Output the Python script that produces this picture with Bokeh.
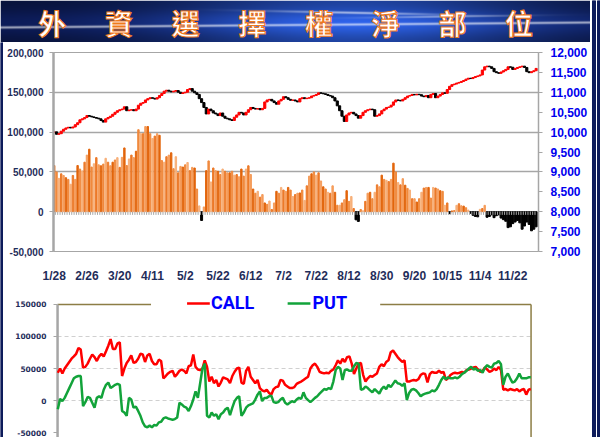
import numpy as np
from bokeh.plotting import figure
from bokeh.models import Range1d, LinearAxis, FixedTicker, NumeralTickFormatter
from bokeh.layouts import column, row
from bokeh.embed import file_html
from bokeh.resources import INLINE
from bokeh.core.properties import value

# ---------------- data ----------------
title_chars = list("外資選擇權淨部位")
tick_labels = ["1/28", "2/26", "3/20", "4/11", "5/2", "5/22", "6/12", "7/2",
               "7/22", "8/12", "8/30", "9/20", "10/15", "11/4", "11/22"]

# foreign net options position (bars)
net_position = [
    58000, 50000, 41900, 47600, 45500, 42700, 40600, 34500, 45500, 40600, 58000, 53600, 51200, 62200, 71100,
    78500, 56100, 60200, 67900, 58900, 57700, 59800, 67100, 62200, 57700, 62200, 65000, 67900, 55700, 68300,
    80100, 58000, 66300, 71100, 67900, 76000, 103000, 98000, 98000, 107000, 107000, 98000, 92000, 95000, 98000,
    96000, 64200, 62200, 69100, 71100, 74000, 54000, 69100, 48800, 56900, 56100, 58900, 61800, 51600, 55700,
    54900, 28500, 7300, -11000, 6000, 51600, 63800, 37400, 54900, 51600, 50800, 46700, 53600, 50800, 48800,
    48800, 50800, 45900, 46700, 43900, 53600, 44700, 53600, 57700, 46700, 28500, 23200, 25600, 18300, 21500,
    11000, 9300, 13400, 2800, 11000, 25600, 23200, 30500, 27200, 25600, 30500, 27200, 19100, 21500, 23200,
    23600, 27200, 14200, 32500, 44700, 47600, 50000, 45900, 48800, 38600, 31300, 28500, 24400, 23200, 32500,
    24400, 8100, 8100, 11000, 15000, 26400, 13000, 19100, 4000, -10200, -12200, 2800, 1200, 13000, 23200,
    24400, 16300, 24400, 33700, 31300, 45900, 40600, 39400, 37800, 40600, 61000, 50000, 36600, 33700, 41500,
    33300, 29300, 27200, 16300, 16300, 12200, 16300, 24400, 29700, 30500, 30500, 17100, 30500, 29700, 28500,
    26400, 25600, 8100, 11000, -2500, 1000, 1500, 8000, 10000, 7500, 7000, 5000, 2000, -2000, -4500,
    -6000, -6500, 3000, 4000, 8000, -7000, -6000, -4000, -7500, -5000, -4000, -8000, -10000, -12000, -20000,
    -19000, -15000, -13000, -11000, -14000, -22000, -18000, -13000, -16000, -24000, -22000, -19000,
]

# TAIEX candles
taiex_open = [
    9990, 10006, 9945, 9960, 10023, 10072, 10104, 10121, 10104, 10129, 10186, 10235, 10309, 10333, 10366,
    10415, 10399, 10382, 10366, 10350, 10333, 10292, 10251, 10333, 10366, 10399, 10448, 10497, 10537, 10562,
    10578, 10636, 10537, 10554, 10562, 10537, 10578, 10676, 10725, 10742, 10807, 10840, 10864, 10850, 10830,
    10864, 10921, 10970, 11028, 11052, 11028, 11011, 11028, 11044, 11003, 10970, 10987, 11003, 11069, 11093,
    11028, 10987, 10946, 10840, 10742, 10619, 10456, 10578, 10537, 10480, 10456, 10415, 10480, 10399, 10350,
    10333, 10309, 10292, 10374, 10431, 10497, 10480, 10431, 10497, 10562, 10619, 10595, 10578, 10590, 10562,
    10595, 10758, 10807, 10823, 10783, 10742, 10701, 10783, 10823, 10889, 10864, 10823, 10799, 10807, 10783,
    10758, 10840, 10864, 10840, 10852, 10864, 10905, 10921, 10946, 10987, 10975, 10962, 10946, 10921, 10905,
    10864, 10783, 10660, 10537, 10399, 10268, 10431, 10480, 10497, 10456, 10415, 10350, 10415, 10497, 10537,
    10562, 10578, 10562, 10399, 10415, 10456, 10537, 10578, 10619, 10630, 10676, 10758, 10807, 10799, 10783,
    10823, 10864, 10905, 10921, 10946, 10935, 10950, 10940, 10905, 10889, 10921, 10864, 10946, 10970, 10864,
    10905, 10946, 10987, 10975, 11069, 11150, 11191, 11207, 11232, 11248, 11273, 11297, 11330, 11354, 11345,
    11371, 11395, 11412, 11436, 11559, 11640, 11657, 11640, 11600, 11518, 11493, 11477, 11510, 11542, 11575,
    11640, 11630, 11575, 11600, 11624, 11640, 11657, 11624, 11518, 11493, 11518, 11542,
]
taiex_close = [
    10006, 9945, 9960, 10023, 10072, 10104, 10121, 10104, 10129, 10186, 10235, 10309, 10333, 10366, 10415,
    10399, 10382, 10366, 10350, 10333, 10292, 10251, 10333, 10366, 10399, 10448, 10497, 10537, 10562, 10578,
    10636, 10537, 10554, 10562, 10537, 10578, 10676, 10725, 10742, 10807, 10840, 10864, 10850, 10830, 10864,
    10921, 10970, 11028, 11052, 11028, 11011, 11028, 11044, 11003, 10970, 10987, 11003, 11069, 11093, 11028,
    10987, 10946, 10840, 10742, 10619, 10456, 10578, 10537, 10480, 10456, 10415, 10480, 10399, 10350, 10333,
    10309, 10292, 10374, 10431, 10497, 10480, 10431, 10497, 10562, 10619, 10595, 10578, 10590, 10562, 10595,
    10758, 10807, 10823, 10783, 10742, 10701, 10783, 10823, 10889, 10864, 10823, 10799, 10807, 10783, 10758,
    10840, 10864, 10840, 10852, 10864, 10905, 10921, 10946, 10987, 10975, 10962, 10946, 10921, 10905, 10864,
    10783, 10660, 10537, 10399, 10268, 10431, 10480, 10497, 10456, 10415, 10350, 10415, 10497, 10537, 10562,
    10578, 10562, 10399, 10415, 10456, 10537, 10578, 10619, 10630, 10676, 10758, 10807, 10799, 10783, 10823,
    10864, 10905, 10921, 10946, 10935, 10950, 10940, 10905, 10889, 10921, 10864, 10946, 10970, 10864, 10905,
    10946, 10987, 10975, 11069, 11150, 11191, 11207, 11232, 11248, 11273, 11297, 11330, 11354, 11345, 11371,
    11395, 11412, 11436, 11559, 11640, 11657, 11640, 11600, 11518, 11493, 11477, 11510, 11542, 11575, 11640,
    11630, 11575, 11600, 11624, 11640, 11657, 11624, 11518, 11493, 11518, 11542, 11600,
]

# CALL / PUT net positions
call_pos = [
    43350, 49980, 42330, 49980, 55080, 60180, 65280, 68850, 72930, 82110, 79560, 51510, 52530, 57630, 65280,
    71910, 67830, 61710, 68850, 72930, 68850, 77010, 85680, 95880, 80580, 80580, 89250, 90780, 38250, 49980,
    58650, 63750, 70380, 58650, 60180, 65280, 72930, 71910, 60180, 70380, 72930, 61710, 56610, 56610, 63750,
    61710, 34680, 38250, 42330, 44880, 46410, 37230, 41310, 46410, 48450, 46410, 42330, 53550, 55080, 71910,
    52530, 48450, 47430, 49980, 62730, 52530, 29580, 37230, 27030, 32130, 21930, 28050, 36210, 34680, 33150,
    27030, 38250, 44880, 49980, 51510, 28050, 26010, 46410, 52530, 37230, 32130, 27030, 32130, 19380, 15810,
    14280, 16830, 11730, 9180, 17850, 20910, 21930, 32130, 31110, 24480, 21930, 19380, 19380, 20910, 26010,
    28050, 29580, 32130, 34680, 37230, 49980, 55080, 57630, 52530, 44880, 43350, 42330, 43350, 42330, 46410,
    48450, 55080, 62730, 57630, 65280, 60180, 67830, 68850, 57630, 41310, 49980, 57630, 58650, 39780, 29580,
    34680, 38250, 37230, 39780, 42330, 52530, 56610, 53550, 60180, 62730, 75480, 78030, 72930, 67830, 63750,
    60180, 62730, 29580, 29580, 31110, 32130, 31110, 33150, 39780, 42330, 41310, 28050, 41310, 44880, 43350,
    43350, 46410, 43350, 44880, 32130, 34680, 39780, 42330, 43350, 42330, 43350, 44880, 43350, 47430, 48450,
    49980, 51510, 52530, 48450, 44880, 46410, 51510, 48450, 44880, 46410, 49980, 47430, 52530, 47430, 16830,
    17850, 15810, 17850, 16830, 15810, 17850, 14280, 16830, 17850, 9180, 16830, 17850,
]
put_pos = [
    -13770, 2550, -1020, 4080, 11730, 19380, 27030, 34680, 37230, 38250, 38250, -8670, -2550, 5610, 4080,
    -3570, -11220, 4080, 6630, 4080, 16830, 24480, 28050, 19380, 21930, 24480, 26010, 24480, -16320, -18870,
    -23970, 4080, 1530, -11220, -9690, -16320, -23970, -34170, -40290, -41820, -39270, -41820, -38250, -39270, -34170,
    -33150, -28050, -26520, -28050, -29070, -30090, -29070, -26520, -3570, -6120, -9690, -11220, -16320, -8670, 1530,
    14280, 4080, 27030, 49980, 57630, -23970, -26520, -18870, -23970, -21420, -29070, -21420, -18870, -13770, -11220,
    -22950, -11220, -1020, 4080, 6630, -23970, -18870, -11220, -7650, -6120, -4590, 1530, 9180, 14280, -1020,
    4080, 4080, 6630, 7650, -2550, -3570, -2550, 1530, 4080, -3570, -6120, -3570, -1020, -2550, 1530,
    4080, 2550, 12750, 4080, 510, -2550, 510, 4080, 6630, 10710, 14280, 17850, 16830, 19380, 17850,
    29580, 47430, 52530, 49980, 32130, 47430, 48450, 46410, 46410, 53550, 58650, 57630, 16830, 17850, 21930,
    19380, 15810, 12750, 17850, 14280, 10710, 17850, 21930, 17850, 24480, 20910, 26010, 31110, 27030, 26010,
    22950, 27030, 510, 11730, 16830, 17850, 15810, 11730, 6630, 9180, 10710, 11730, 12750, 15810, 14280,
    17850, 24480, 32130, 37230, 33150, 36210, 34680, 34680, 36210, 34680, 37230, 41310, 43350, 46410, 49980,
    52530, 48450, 49980, 46410, 47430, 43350, 51510, 55080, 52530, 51510, 57630, 58650, 61710, 56610, 24480,
    37230, 42330, 34680, 28050, 29580, 34680, 42330, 34680, 34680, 34680, 36210, 36210,
]

n = len(net_position)
idx = list(range(n))
tick_pos = [14 * k for k in range(len(tick_labels))]

# ---------------- styling ----------------
NAVY = "#0D1B5A"
GRAY = "#A6A6A6"
LABEL = "#1F2D5A"
BW = 590          # banner width
CW = 587          # chart column width
BL, BR = 50, 50   # chart borders (frame x 53..540 on the page)

def bare(f):
    f.axis.visible = False
    f.grid.visible = False
    f.outline_line_color = None
    return f

# ---------- banner ----------
ban = bare(figure(width=BW, height=42, x_range=Range1d(0, BW), y_range=Range1d(0, 42),
                  output_backend="svg", toolbar_location=None, min_border=0))
H = 42
yy, xx = np.mgrid[0:H, 0:BW].astype(float)
fx = xx / BW
top_y = H - 1 - yy          # distance from top
glow = 0.15 + 0.85 * np.exp(-((fx - 0.6) / 0.3) ** 2)
vert = 0.65 + 0.35 * np.exp(-((top_y - 22) / 13.0) ** 2)
base_r = (6 + 40 * glow) * vert
base_g = (14 + 85 * glow) * vert
base_b = (60 + 175 * glow) * vert
s1 = np.exp(-((top_y - (24 - 5 * (fx - 0.5))) / 1.1) ** 2) * 0.7
s2 = np.exp(-((top_y - (10 + 12 * (fx - 0.45))) / 1.0) ** 2) * np.exp(-((fx - 0.6) / 0.14) ** 2) * 0.7
s3 = np.exp(-((top_y - (16 - 8 * (fx - 0.7))) / 0.8) ** 2) * np.exp(-((fx - 0.75) / 0.12) ** 2) * 0.6
s = np.clip(s1 + s2 + s3, 0, 1)
img = np.empty((H, BW), dtype=np.uint32)
view = img.view(dtype=np.uint8).reshape((H, BW, 4))
view[:, :, 0] = np.clip(base_r + (255 - base_r) * s, 0, 255).astype(np.uint8)
view[:, :, 1] = np.clip(base_g + (255 - base_g) * s, 0, 255).astype(np.uint8)
view[:, :, 2] = np.clip(base_b + (255 - base_b) * s, 0, 255).astype(np.uint8)
view[:, :, 3] = 255
ban.image_rgba(image=[img], x=0, y=0, dw=BW, dh=H)

char_x = [51.7 + 66.7 * k for k in range(len(title_chars))]
ban.text(x=char_x, y=[19.5] * len(title_chars), text=title_chars,
         text_font=value("Noto Sans CJK TC"), text_font_size="28px", text_font_style="bold",
         text_color="white", text_outline_color="#F07A1A",
         text_align="center", text_baseline="middle")

# ---------- top chart ----------
top = figure(width=CW, height=243, x_range=Range1d(-0.3, 207), y_range=Range1d(-50000, 200000),
             output_backend="svg", toolbar_location=None,
             min_border_left=BL, min_border_right=BR, min_border_top=10, min_border_bottom=29)
top.outline_line_color = GRAY
top.xgrid.visible = False
top.ygrid.ticker = FixedTicker(ticks=[-50000, 50000, 100000, 150000, 200000])
top.ygrid.grid_line_color = GRAY
top.ygrid.grid_line_width = 1.5

ly = top.yaxis[0]
ly.ticker = FixedTicker(ticks=[-50000, 0, 50000, 100000, 150000, 200000])
ly.formatter = NumeralTickFormatter(format="0,0")
ly.axis_line_color = GRAY
ly.axis_line_width = 2.5
ly.major_tick_line_color = GRAY
ly.major_tick_out = 4
ly.major_tick_in = 0
ly.minor_tick_line_color = None
ly.major_label_text_font = "Liberation Sans"
ly.major_label_text_font_size = "10px"
ly.major_label_text_font_style = "bold"
ly.major_label_text_color = LABEL
ly.major_label_standoff = 6

bx = top.xaxis[0]
bx.ticker = FixedTicker(ticks=tick_pos)
bx.major_label_overrides = {p: l for p, l in zip(tick_pos, tick_labels)}
bx.axis_line_color = None
bx.major_tick_line_color = None
bx.minor_tick_line_color = None
bx.major_label_text_font = "Liberation Sans"
bx.major_label_text_font_size = "12px"
bx.major_label_text_font_style = "bold"
bx.major_label_text_color = LABEL
bx.major_label_standoff = 11

top.extra_y_ranges = {"px": Range1d(7000, 12000)}
ry = LinearAxis(y_range_name="px",
                ticker=FixedTicker(ticks=[7000, 7500, 8000, 8500, 9000, 9500, 10000,
                                          10500, 11000, 11500, 12000]),
                formatter=NumeralTickFormatter(format="0,0"))
ry.axis_line_color = GRAY
ry.axis_line_width = 1.5
ry.major_tick_line_color = GRAY
ry.major_tick_out = 4
ry.major_tick_in = 0
ry.minor_tick_line_color = None
ry.major_label_text_font = "Liberation Sans"
ry.major_label_text_font_size = "12px"
ry.major_label_text_font_style = "bold"
ry.major_label_text_color = "#0000EE"
ry.major_label_standoff = 8
top.add_layout(ry, "right")

shades = ["#E2650C", "#F08A3E", "#F7B07A", "#EC7A2A", "#F59D5C"]
pos_x = [i for i, v in zip(idx, net_position) if v >= 0]
pos_v = [v for v in net_position if v >= 0]
pos_c = [shades[i % len(shades)] for i in pos_x]
neg_x = [i for i, v in zip(idx, net_position) if v < 0]
neg_v = [v for v in net_position if v < 0]
top.vbar(x=pos_x, top=pos_v, bottom=0, width=0.6, color=pos_c)
top.vbar(x=neg_x, top=0, bottom=neg_v, width=0.85, color="black")

# category tick marks on the zero line
tick_x = [i - 0.5 for i in idx]
top.segment(x0=tick_x, y0=[0] * n, x1=tick_x, y1=[-4000] * n, line_color=GRAY, line_width=1)

body_top = [max(o, c) for o, c in zip(taiex_open, taiex_close)]
body_bot = [min(o, c) for o, c in zip(taiex_open, taiex_close)]
body_col = ["#FF0000" if c >= o else "black" for o, c in zip(taiex_open, taiex_close)]
top.vbar(x=idx, top=body_top, bottom=body_bot, width=0.9, color=body_col, y_range_name="px")

# ---------- bottom chart ----------
YB0, YB1 = -57812, 173437
bot = figure(width=CW, height=152, x_range=Range1d(-1.865, 209.34), y_range=Range1d(YB0, YB1),
             output_backend="svg", toolbar_location=None,
             min_border_left=BL, min_border_right=BR, min_border_top=4, min_border_bottom=0)
bot.outline_line_color = None
bot.xaxis.visible = False
bot.xgrid.visible = False
bot.ygrid.visible = False

by = bot.yaxis[0]
by.ticker = FixedTicker(ticks=[-50000, 0, 50000, 100000, 150000])
by.formatter = NumeralTickFormatter(format="0")
by.axis_line_color = None
by.major_tick_line_color = GRAY
by.major_tick_out = 0
by.major_tick_in = 4
by.minor_tick_line_color = None
by.major_label_text_font = "DejaVu Sans"
by.major_label_text_font_size = "7.5px"
by.major_label_text_font_style = "bold"
by.major_label_text_color = LABEL
by.major_label_standoff = 7

# dashed grid lines inside the plot area
bot.segment(x0=[-0.1] * 3, y0=[0, 50000, 100000], x1=[206] * 3, y1=[0, 50000, 100000],
            line_color="#D0D0D0", line_dash="4 3", line_width=1)

OLIVE = "#8C7D45"
bot.segment(x0=[-0.1, 140.4], y0=[150000, 150000], x1=[40.6, 206.1], y1=[150000, 150000],
            line_color=OLIVE, line_width=1.5)
bot.segment(x0=[206.1], y0=[YB0], x1=[206.1], y1=[150000], line_color=OLIVE, line_width=1.5)
bot.segment(x0=[-0.1], y0=[YB0], x1=[-0.1], y1=[150000], line_color=GRAY, line_width=2.5)

bot.line(idx, call_pos, line_color="#FF0000", line_width=2.5)
bot.line(idx, put_pos, line_color="#12A33A", line_width=2.5)

# legend
bot.segment(x0=[56.3], y0=[151500], x1=[66.2], y1=[151500], line_color="#FF0000", line_width=2.5)
bot.segment(x0=[100.1], y0=[151500], x1=[110.0], y1=[151500], line_color="#12A33A", line_width=2.5)
bot.text(x=[66.7, 110.9], y=[152500, 152500], text=["CALL", "PUT"],
         text_font=value("Roboto"), text_font_size="18px", text_font_style="bold",
         text_color="#0000FF", text_baseline="middle", text_align="left")

# ---------- frame strips ----------
def strip(w, h, bands, vertical):
    f = bare(figure(width=w, height=h, output_backend="svg", toolbar_location=None, min_border=0,
                    x_range=Range1d(0, w), y_range=Range1d(0, h)))
    f.background_fill_color = "white"
    f.border_fill_color = "white"
    for a, b, c in bands:
        if vertical:
            f.quad(left=a, right=b, bottom=0, top=h, color=c)
        else:
            f.quad(left=0, right=w, bottom=h - b, top=h - a, color=c)
    return f

lstrip = strip(3, 395, [(0, 3, NAVY)], True)
rstrip = strip(10, 437, [(2, 5, NAVY), (7, 10, NAVY)], True)
bstrip = strip(600, 6, [(0, 3, NAVY), (4, 6, NAVY)], False)

charts = column(top, bot, spacing=0)
left_block = column(ban, row(lstrip, charts, spacing=0), spacing=0)
layout = column(row(left_block, rstrip, spacing=0), bstrip, spacing=0)
open("out.html", "w").write(file_html(layout, INLINE))
